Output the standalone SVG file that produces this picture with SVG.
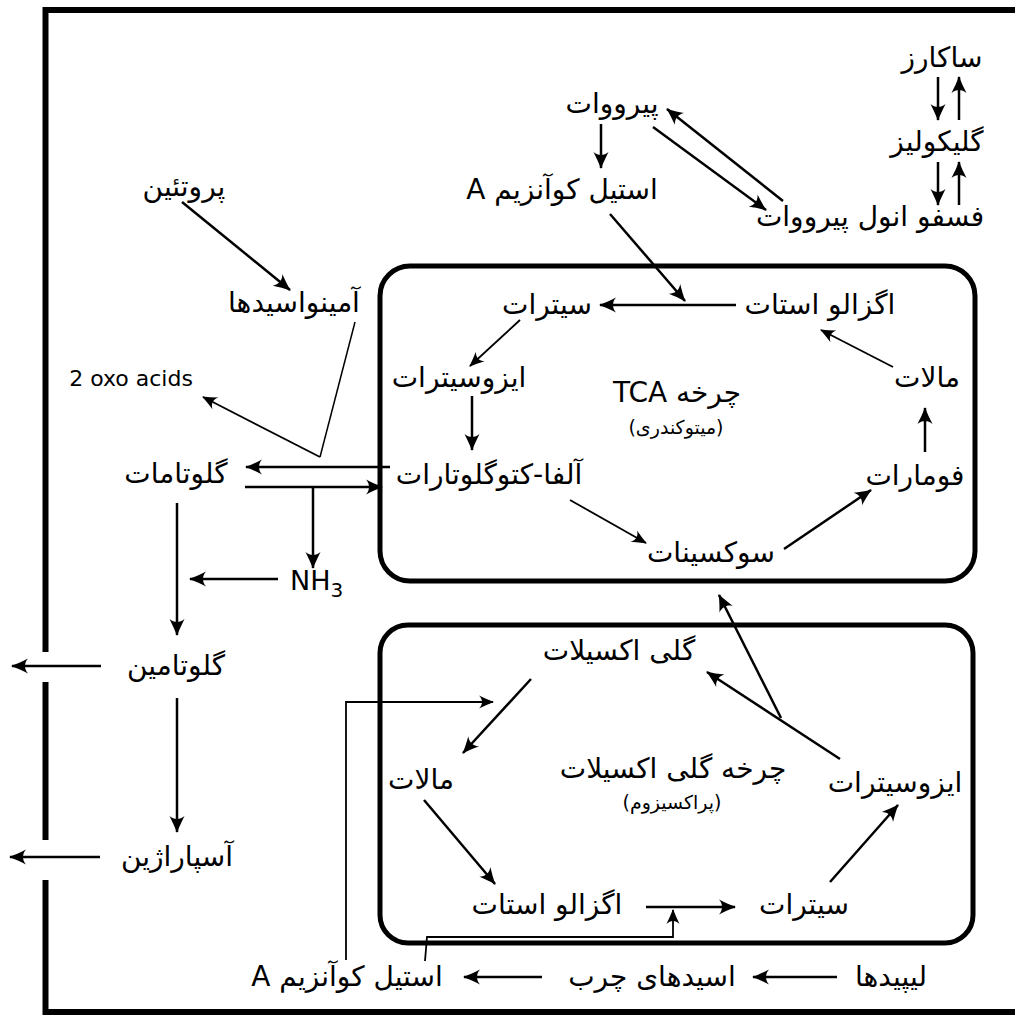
<svg xmlns="http://www.w3.org/2000/svg" width="1015" height="1021" viewBox="0 0 1015 1021">
<style>
text{font-family:"DejaVu Sans","Noto Sans",sans-serif;font-size:28px;fill:#000;text-anchor:middle;dominant-baseline:central}
.fa{direction:rtl}
.sm{font-size:19px}
.frame{fill:none;stroke:#000;stroke-width:6}
.box{fill:none;stroke:#000;stroke-width:5}
.a{fill:none;stroke:#000;stroke-width:2.5;marker-end:url(#ah)}
.t{fill:none;stroke:#000;stroke-width:1.8;marker-end:url(#ahs)}
.l{fill:none;stroke:#000;stroke-width:1.5}
</style>
<defs>
<marker id="ah" viewBox="-18 -8 20 16" refX="0" refY="0" markerWidth="20" markerHeight="16" markerUnits="userSpaceOnUse" orient="auto">
<path d="M1,0 C-5,-2 -11,-5 -16,-7.5 C-12,-3 -12,3 -16,7.5 C-11,5 -5,2 1,0 Z" fill="#000"/>
</marker>
<marker id="ahs" viewBox="-16 -7 18 14" refX="0" refY="0" markerWidth="18" markerHeight="14" markerUnits="userSpaceOnUse" orient="auto">
<path d="M1,0 C-4,-2 -9,-4 -14,-6.5 C-10,-2.5 -10,2.5 -14,6.5 C-9,4 -4,2 1,0 Z" fill="#000"/>
</marker>
</defs>

<g id="frame">
<path class="frame" d="M1015,10 H45.5 V652"/>
<path class="frame" d="M45.5,682 V840"/>
<path class="frame" d="M45.5,880 V1012 H1015"/>
</g>

<g id="tca-box"><rect class="box" x="380" y="266" width="595" height="315" rx="30"/></g>
<g id="glyox-box"><rect class="box" x="380" y="625" width="593" height="318" rx="28"/></g>

<g id="connectors">
<line class="a" x1="938" y1="77" x2="938" y2="120"/>
<line class="a" x1="959" y1="120" x2="959" y2="77"/>
<line class="a" x1="938" y1="162" x2="938" y2="205"/>
<line class="a" x1="959" y1="205" x2="959" y2="162"/>
<line class="a" x1="601" y1="124" x2="601" y2="168"/>
<line class="a" x1="653" y1="127" x2="766" y2="210"/>
<line class="a" x1="783" y1="201" x2="667" y2="109"/>
<line class="a" x1="610" y1="214" x2="685" y2="301"/>
<line class="a" x1="736" y1="305" x2="600" y2="305"/>
<line class="t" x1="520" y1="320" x2="470" y2="366"/>
<line class="a" x1="472" y1="396" x2="472" y2="450"/>
<line class="t" x1="570" y1="500" x2="646" y2="543"/>
<line class="a" x1="784" y1="549" x2="871" y2="490"/>
<line class="a" x1="925" y1="452" x2="925" y2="408"/>
<line class="t" x1="893" y1="367" x2="821" y2="330"/>
<line class="a" x1="182" y1="202" x2="290" y2="290"/>
<line class="l" x1="355" y1="322" x2="320" y2="457"/>
<line class="t" x1="320" y1="457" x2="203" y2="397"/>
<line class="a" x1="390" y1="467" x2="246" y2="467"/>
<line class="a" x1="245" y1="487" x2="382" y2="487"/>
<line class="a" x1="313" y1="487" x2="313" y2="568"/>
<line class="a" x1="278" y1="579" x2="190" y2="579"/>
<line class="a" x1="177" y1="503" x2="177" y2="635"/>
<line class="a" x1="177" y1="698" x2="177" y2="832"/>
<line class="a" x1="101" y1="666" x2="12" y2="666"/>
<line class="a" x1="100" y1="857" x2="10" y2="857"/>
<line class="a" x1="531" y1="679" x2="463" y2="753"/>
<line class="a" x1="424" y1="800" x2="495" y2="884"/>
<line class="a" x1="646" y1="907" x2="735" y2="907"/>
<polyline class="t" points="425,961 427,937 673,937 673,910"/>
<polyline class="t" points="346,960 346,702 493,702"/>
<line class="a" x1="830" y1="882" x2="898" y2="805"/>
<line class="a" x1="840" y1="759" x2="707" y2="672"/>
<line class="a" x1="781" y1="718" x2="719" y2="595"/>
<line class="a" x1="837" y1="977" x2="753" y2="977"/>
<line class="a" x1="542" y1="977" x2="464" y2="977"/>
</g>

<g id="n-sucrose"><text class="fa" x="942" y="57">ساکارز</text></g>
<g id="n-glycolysis"><text class="fa" x="937" y="141">گلیکولیز</text></g>
<g id="n-pep"><text class="fa" x="870" y="216">فسفو انول پیرووات</text></g>
<g id="n-pyruvate"><text class="fa" x="612" y="103">پیرووات</text></g>
<g id="n-acetylcoa1"><text class="fa" x="562" y="189">استیل کوآنزیم A</text></g>
<g id="n-protein"><text class="fa" x="184" y="186">پروتئین</text></g>
<g id="n-aminoacids"><text class="fa" x="294" y="302">آمینواسیدها</text></g>
<g id="n-oxoacids"><text x="131" y="378" style="font-size:22px">2 oxo acids</text></g>
<g id="n-glutamate"><text class="fa" x="176" y="473">گلوتامات</text></g>
<g id="n-nh3"><text x="290" y="580" style="text-anchor:start;font-size:27px">NH<tspan dy="10" style="font-size:20px">3</tspan></text></g>
<g id="n-glutamine"><text class="fa" x="176" y="665">گلوتامین</text></g>
<g id="n-asparagine"><text class="fa" x="177" y="856">آسپاراژین</text></g>

<g id="n-tca-citrate"><text class="fa" x="547" y="304">سیترات</text></g>
<g id="n-tca-oaa"><text class="fa" x="820" y="304">اگزالو استات</text></g>
<g id="n-tca-isocitrate"><text class="fa" x="459" y="377">ایزوسیترات</text></g>
<g id="n-tca-label"><text class="fa" x="677" y="392">چرخه TCA</text><text class="fa sm" x="676" y="427">(میتوکندری)</text></g>
<g id="n-tca-malate"><text class="fa" x="927" y="377">مالات</text></g>
<g id="n-tca-akg"><text class="fa" x="489" y="474">آلفا-کتوگلوتارات</text></g>
<g id="n-tca-fumarate"><text class="fa" x="915" y="475">فومارات</text></g>
<g id="n-tca-succinate"><text class="fa" x="711" y="552">سوکسینات</text></g>

<g id="n-gly-glyoxylate"><text class="fa" x="619" y="650">گلی اکسیلات</text></g>
<g id="n-gly-malate"><text class="fa" x="421" y="779">مالات</text></g>
<g id="n-gly-label"><text class="fa" x="673" y="768">چرخه گلی اکسیلات</text><text class="fa sm" x="672" y="802">(پراکسیزوم)</text></g>
<g id="n-gly-isocitrate"><text class="fa" x="895" y="782">ایزوسیترات</text></g>
<g id="n-gly-oaa"><text class="fa" x="547" y="904">اگزالو استات</text></g>
<g id="n-gly-citrate"><text class="fa" x="804" y="904">سیترات</text></g>

<g id="n-lipids"><text class="fa" x="891" y="976">لیپیدها</text></g>
<g id="n-fattyacids"><text class="fa" x="652" y="976">اسیدهای چرب</text></g>
<g id="n-acetylcoa2"><text class="fa" x="347" y="976">استیل کوآنزیم A</text></g>
</svg>
